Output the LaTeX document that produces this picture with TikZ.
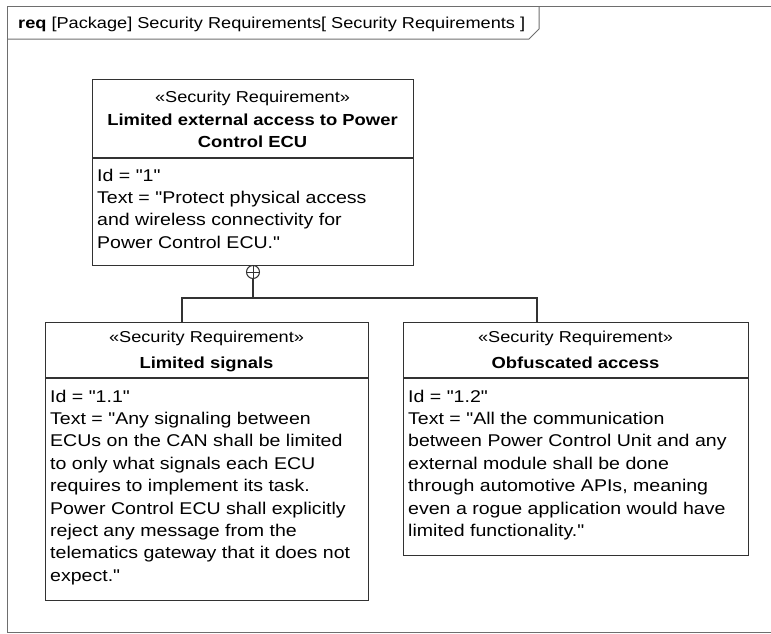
\documentclass[tikz,border=0pt]{standalone}
\usepackage{fontspec}
\newfontfamily\lsans{Liberation Sans}[FakeStretch=1.15]
\newcommand{\dquo}{\symbol{34}}
\definecolor{linec}{RGB}{50,50,50}
\definecolor{framec}{RGB}{110,110,110}
\begin{document}
\begin{tikzpicture}[x=1pt,y=-1pt,
  line/.style={draw=linec, line width=1.2pt},
  box/.style={line, fill=white, anchor=north west, inner sep=0pt},
  frameline/.style={draw=framec, line width=1pt},
  body/.style={anchor=base west, inner sep=0pt, font=\lsans\fontsize{17}{22.4}\selectfont},
  stereo/.style={anchor=base, inner sep=0pt, font=\lsans\fontsize{15.8}{22.4}\selectfont},
  rname/.style={anchor=base, inner sep=0pt, font=\lsans\fontsize{16}{22.4}\selectfont\bfseries}]
\useasboundingbox (0,0) rectangle (771,633);
% frame
\draw[frameline] (7,632) -- (7,6) -- (771,6);
\draw[frameline] (7,632) -- (771,632);
\draw[frameline] (7,39) -- (529,39) -- (539,29) -- (539,6);
\node[anchor=base west, inner sep=0pt, font=\lsans\fontsize{15.8}{20}\selectfont] (title) at (18,28)
  {\textbf{req} [Package] Security Requirements[ Security Requirements ]};
% top requirement
\node[box, minimum width=321pt, minimum height=186pt] (r1) at (92,79) {};
\draw[line] (92,158) -- (413,158);
\node[stereo] (r1s) at (252.5,102) {«Security Requirement»};
\node[rname] (r1n) at (252.5,125) {\parbox[t]{316pt}{\centering Limited external access to Power\\Control ECU}};
\node[body] (r1b) at (97,181) {\parbox[t]{314pt}{Id = \dquo 1\dquo\\Text = \dquo Protect physical access\\and wireless connectivity for\\Power Control ECU.\dquo}};
% left requirement
\node[box, minimum width=323pt, minimum height=278pt] (r2) at (45,322) {};
\draw[line] (45,378) -- (368,378);
\node[stereo] (r2s) at (206.5,342) {«Security Requirement»};
\node[rname] (r2n) at (206.5,368) {Limited signals};
\node[body] (r2b) at (50,402) {\parbox[t]{316pt}{Id = \dquo 1.1\dquo\\Text = \dquo Any signaling between\\ECUs on the CAN shall be limited\\to only what signals each ECU\\requires to implement its task.\\Power Control ECU shall explicitly\\reject any message from the\\telematics gateway that it does not\\expect.\dquo}};
% right requirement
\node[box, minimum width=345pt, minimum height=233pt] (r3) at (403,322) {};
\draw[line] (403,378) -- (748,378);
\node[stereo] (r3s) at (575.5,342) {«Security Requirement»};
\node[rname] (r3n) at (575.5,368) {Obfuscated access};
\node[body] (r3b) at (408,402) {\parbox[t]{338pt}{Id = \dquo 1.2\dquo\\Text = \dquo All the communication\\between Power Control Unit and any\\external module shall be done\\through automotive APIs, meaning\\even a rogue application would have\\limited functionality.\dquo}};
% containment connector
\node[draw=linec, line width=1pt, circle, minimum size=13pt, inner sep=0pt, fill=white] (cp) at (253,272) {};
\draw[linec, line width=1pt] (cp.north) -- (cp.south) (cp.west) -- (cp.east);
\coordinate (j) at (253,298);
\coordinate (t2) at (182,322);
\coordinate (t3) at (537,322);
\draw[line] (cp.south) -- (j);
\draw[line] (j) -| (t2);
\draw[line] (j) -| (t3);
\end{tikzpicture}
\end{document}
